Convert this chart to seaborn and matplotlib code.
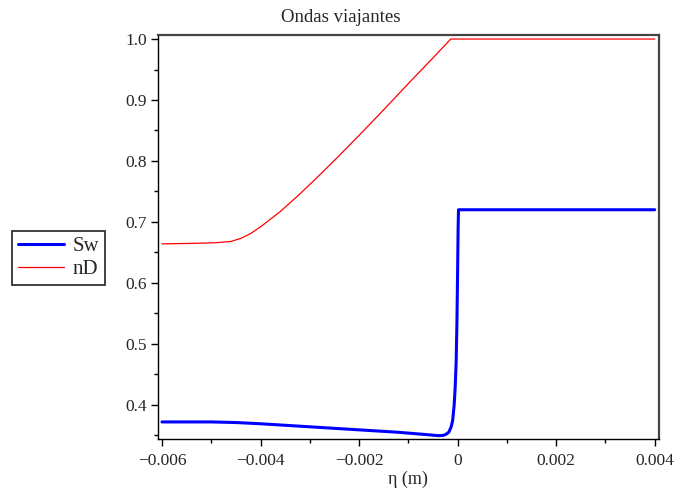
import matplotlib
matplotlib.use("Agg")
import matplotlib.pyplot as plt
import seaborn as sns
import numpy as np
from matplotlib.ticker import MultipleLocator

# ---- data ----
sw_x = [-0.006, -0.005, -0.0045, -0.004, -0.003, -0.002, -0.0012, -0.0006,
        -0.0004, -0.0003, -0.00024, -0.00018, -0.00013, -0.0001, -0.00007,
        -0.00005, -0.00003, -0.000015, 0.0, 0.00001, 0.000018, 0.004]
sw_y = [0.372, 0.372, 0.371, 0.369, 0.364, 0.359, 0.355, 0.351,
        0.3495, 0.3498, 0.3515, 0.355, 0.364, 0.375, 0.400,
        0.428, 0.47, 0.53, 0.62, 0.69, 0.72, 0.72]

nd_x = [-0.006, -0.0053, -0.0049, -0.0046, -0.0044, -0.0042, -0.0040, -0.0036,
        -0.0032, -0.0028, -0.0024, -0.0020, -0.0015, -0.0010, -0.0005,
        -0.00014, 0.004]
nd_y = [0.664, 0.665, 0.666, 0.668, 0.673, 0.681, 0.692, 0.717,
        0.746, 0.777, 0.809, 0.842, 0.884, 0.927, 0.969,
        1.0, 1.0]

title = "Ondas viajantes"
xlabel = "η (m)"
x_ticks = [-0.006, -0.004, -0.002, 0, 0.002, 0.004]
x_ticklabels = ["\u22120.006", "\u22120.004", "\u22120.002", "0", "0.002", "0.004"]
y_ticks = [0.4, 0.5, 0.6, 0.7, 0.8, 0.9, 1.0]

sns.set_style("ticks")
plt.rcParams['font.family'] = ['Liberation Serif', 'DejaVu Serif']

fig = plt.figure(figsize=(6.75, 4.93), dpi=100)
ax = fig.add_axes([157.7/675, 1-439/493, (659-157.7)/675, (439-35)/493])

sns.lineplot(x=sw_x, y=sw_y, ax=ax, color='#0000ff', linewidth=2.2,
             label='Sw', estimator=None, sort=False, legend=False)
sns.lineplot(x=nd_x, y=nd_y, ax=ax, color='#ff0000', linewidth=0.9,
             label='nD', estimator=None, sort=False, legend=False)

ax.set_xlim(-0.006087, 0.004087)
ax.set_ylim(0.344, 1.0066)
ax.set_xticks(x_ticks)
ax.set_xticklabels(x_ticklabels)
ax.set_yticks(y_ticks)
ax.set_yticklabels([f"{v:.1f}" for v in y_ticks])
ax.xaxis.set_minor_locator(MultipleLocator(0.001))
ax.yaxis.set_minor_locator(MultipleLocator(0.05))
ax.tick_params(which='major', direction='out', length=5, width=1.0,
               labelsize=12.5, color='black')
ax.tick_params(axis='x', which='major', pad=5)
ax.tick_params(axis='y', which='major', pad=3)
ax.tick_params(which='minor', direction='out', length=3, width=1.0, color='black')
ax.tick_params(top=False, right=False, which='both')

for s in ['left', 'bottom']:
    ax.spines[s].set_color('black')
    ax.spines[s].set_linewidth(1.0)
for s in ['top', 'right']:
    ax.spines[s].set_visible(True)
    ax.spines[s].set_color('#444444')
    ax.spines[s].set_linewidth(1.6)

ax.set_xlabel(xlabel, fontsize=13, labelpad=1)
ax.set_ylabel("")
fig.text(341/675, 1-18/493, title, ha='center', va='center', fontsize=13.5)

handles = ax.get_lines()
leg = fig.legend(handles, ['Sw', 'nD'], loc='center left',
                 bbox_to_anchor=(12/675, 1-258/493), fontsize=15,
                 frameon=True, fancybox=False, handlelength=2.2,
                 handletextpad=0.4, labelspacing=0.15, borderpad=0.3,
                 borderaxespad=0)
leg.get_frame().set_edgecolor('black')
leg.get_frame().set_linewidth(1.3)
leg.get_frame().set_facecolor('white')

fig.savefig("out.png", dpi=100)
